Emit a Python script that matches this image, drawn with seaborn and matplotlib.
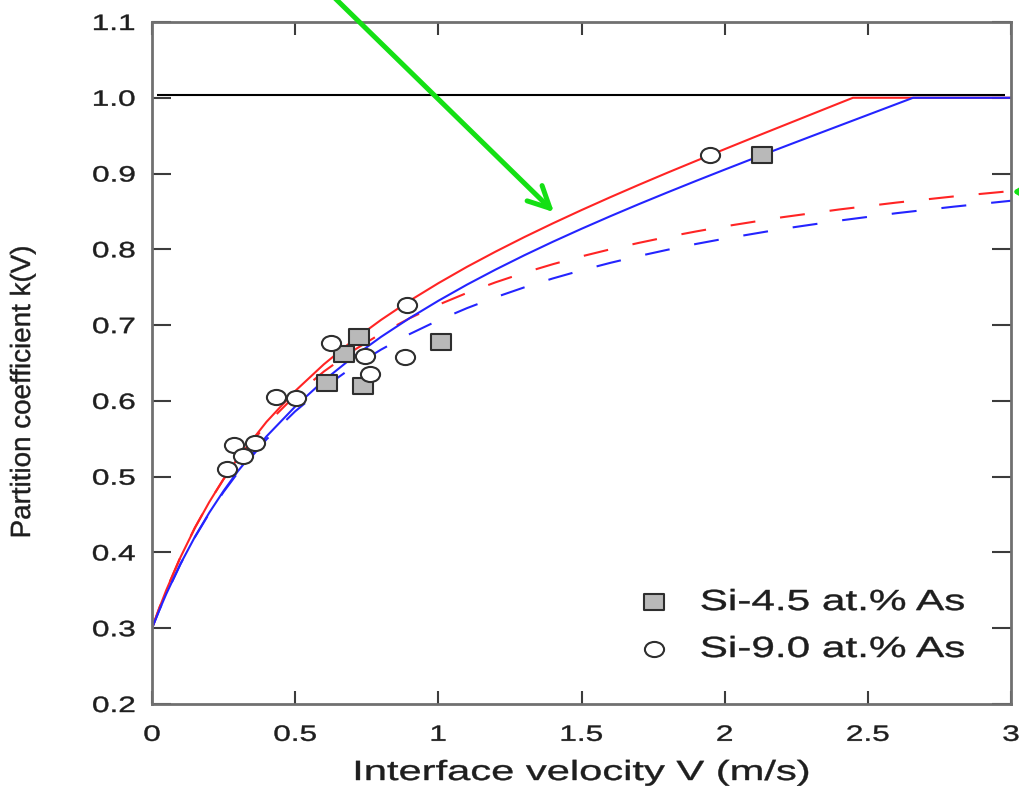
import matplotlib
matplotlib.use("Agg")
import matplotlib.pyplot as plt
import seaborn as sns
import numpy as np
from matplotlib.path import Path
from matplotlib.patheffects import AbstractPathEffect
from matplotlib.transforms import Affine2D

# ---- measured partition coefficients -------------------------------------
si45_v = [0.610, 0.671, 0.724, 0.736, 1.010, 2.131]
si45_k = [0.623, 0.662, 0.684, 0.620, 0.678, 0.924]

si90_v = [0.263, 0.286, 0.319, 0.359, 0.433, 0.503, 0.624, 0.743, 0.761,
          0.885, 0.890, 1.949]
si90_k = [0.510, 0.542, 0.527, 0.544, 0.605, 0.604, 0.676, 0.659, 0.635,
          0.658, 0.726, 0.924]

# ---- model curves k(V) ------------------------------------------------------
# local-nonequilibrium model (solid), reaches k = 1 at V = V_D
red_solid_v = [0, 0.025, 0.05, 0.1, 0.15, 0.2, 0.25, 0.3, 0.4, 0.5, 0.6, 0.7,
               0.8, 0.9, 1.0, 1.1, 1.2, 1.3, 1.4, 1.5, 1.6, 1.7, 1.8, 1.9,
               2.0, 2.1, 2.2, 2.3, 2.4, 2.448, 3.0]
red_solid_k = [0.3, 0.3261, 0.3504, 0.3941, 0.4325, 0.4665, 0.4970, 0.5245,
               0.5724, 0.6130, 0.6482, 0.6792, 0.7069, 0.7322, 0.7553, 0.7769,
               0.7970, 0.8161, 0.8343, 0.8518, 0.8687, 0.8851, 0.9011, 0.9167,
               0.9322, 0.9475, 0.9626, 0.9777, 0.9928, 1.0, 1.0]

blue_solid_v = [0, 0.025, 0.05, 0.1, 0.15, 0.2, 0.25, 0.3, 0.4, 0.5, 0.6, 0.7,
                0.8, 0.9, 1.0, 1.1, 1.2, 1.3, 1.4, 1.5, 1.6, 1.7, 1.8, 1.9,
                2.0, 2.1, 2.2, 2.3, 2.4, 2.5, 2.6, 2.658, 3.0]
blue_solid_k = [0.3, 0.3234, 0.3454, 0.3853, 0.4207, 0.4525, 0.4812, 0.5073,
                0.5532, 0.5925, 0.6268, 0.6572, 0.6845, 0.7093, 0.7321, 0.7534,
                0.7733, 0.7921, 0.8100, 0.8271, 0.8436, 0.8596, 0.8751, 0.8903,
                0.9052, 0.9199, 0.9344, 0.9488, 0.9631, 0.9774, 0.9917, 1.0,
                1.0]

# continuous growth model (dashed)
dashed_v = [0, 0.025, 0.05, 0.1, 0.15, 0.2, 0.25, 0.3, 0.4, 0.5, 0.6, 0.7,
            0.8, 0.9, 1.0, 1.1, 1.2, 1.3, 1.4, 1.5, 1.6, 1.7, 1.8, 1.9, 2.0,
            2.2, 2.4, 2.6, 2.8, 3.0]
red_dashed_k = [0.3, 0.3263, 0.3507, 0.3946, 0.4329, 0.4667, 0.4966, 0.5234,
                0.5692, 0.6070, 0.6387, 0.6657, 0.6889, 0.7091, 0.7268, 0.7425,
                0.7565, 0.7691, 0.7804, 0.7907, 0.8000, 0.8085, 0.8164, 0.8236,
                0.8303, 0.8423, 0.8526, 0.8617, 0.8698, 0.8769]
blue_dashed_k = [0.3, 0.3234, 0.3453, 0.3850, 0.4203, 0.4517, 0.4799, 0.5053,
                 0.5493, 0.5862, 0.6175, 0.6443, 0.6677, 0.6882, 0.7063,
                 0.7224, 0.7368, 0.7498, 0.7616, 0.7723, 0.7821, 0.7911,
                 0.7994, 0.8071, 0.8141, 0.8269, 0.8379, 0.8477, 0.8563,
                 0.8641]

# equilibrium reference k = 1
ref_k = 1.004
ref_v_start, ref_v_end = 0.018, 2.979

x_ticks = [0, 0.5, 1, 1.5, 2, 2.5, 3]
x_tick_labels = ["0", "0.5", "1", "1.5", "2", "2.5", "3"]
y_ticks = [0.2, 0.3, 0.4, 0.5, 0.6, 0.7, 0.8, 0.9, 1.0, 1.1]
y_tick_labels = ["0.2", "0.3", "0.4", "0.5", "0.6", "0.7", "0.8", "0.9",
                 "1.0", "1.1"]

labels = ["Si-4.5 at.% As", "Si-9.0 at.% As"]

# annotation arrows (data coordinates)
arrow1_tip, arrow1_tail = (1.404, 0.849), (0.513, 1.178)
arrow2_tip, arrow2_tail = (3.004, 0.876), (3.35, 0.876)


class Stretch(AbstractPathEffect):
    """Draw glyph outlines widened along one direction about a pivot,
    with a thin outline stroke for a heavier look."""

    def __init__(self, sx=1.0, sy=1.0, pivot="center", stroke=0.3):
        super().__init__()
        self._sx, self._sy, self._pivot = sx, sy, pivot
        self._stroke = stroke

    def draw_path(self, renderer, gc, tpath, affine, rgbFace=None):
        ext = tpath.get_extents()
        if self._pivot == "left":
            px = ext.x0
        elif self._pivot == "right":
            px = ext.x1
        else:
            px = 0.5 * (ext.x0 + ext.x1)
        py = 0.5 * (ext.y0 + ext.y1)
        pre = (Affine2D().translate(-px, -py)
               .scale(self._sx, self._sy).translate(px, py))
        gc0 = renderer.new_gc()
        gc0.copy_properties(gc)
        gc0.set_linewidth(self._stroke)
        gc0.set_joinstyle("round")
        renderer.draw_path(gc0, tpath, pre + affine, rgbFace)
        gc0.restore()


sns.set_theme(style="ticks")
plt.rcParams["font.family"] = ["Liberation Sans", "DejaVu Sans"]

TEXT = "#1e1e1e"
SPINE = "#707070"
TICK = "#3c3c3c"
RED = "#ff2424"
BLUE = "#2424ff"
GREEN = "#14e014"

# slightly wide marker shapes
circ = Path.unit_circle()
ellipse_marker = Path(circ.vertices * np.array([1.0, 0.79]), circ.codes)
rect_marker = Path([(-1, -0.84), (1, -0.84), (1, 0.84), (-1, 0.84), (-1, -0.84)],
                   [Path.MOVETO, Path.LINETO, Path.LINETO, Path.LINETO,
                    Path.CLOSEPOLY])

fig = plt.figure(figsize=(10.19, 7.94), dpi=100)
ax = fig.add_axes([152 / 1019, 90 / 794, 859 / 1019, 682 / 794])

dash = (0, (12, 12))
sns.lineplot(x=dashed_v, y=red_dashed_k, ax=ax, color=RED, lw=1.5,
             linestyle=dash, sort=False)
sns.lineplot(x=dashed_v, y=blue_dashed_k, ax=ax, color=BLUE, lw=1.5,
             linestyle=dash, sort=False)
sns.lineplot(x=red_solid_v, y=red_solid_k, ax=ax, color=RED, lw=1.5,
             sort=False)
sns.lineplot(x=blue_solid_v, y=blue_solid_k, ax=ax, color=BLUE, lw=1.5,
             sort=False)
ax.hlines(ref_k, ref_v_start, ref_v_end, color="black", lw=1.5, zorder=2)

sns.scatterplot(x=si45_v, y=si45_k, ax=ax, marker=rect_marker, s=190,
                color="#b9b9b9", edgecolor="#2e2e2e", linewidth=1.5,
                label=labels[0], zorder=3)
sns.scatterplot(x=si90_v, y=si90_k, ax=ax, marker=ellipse_marker, s=190,
                color="white", edgecolor="#2e2e2e", linewidth=1.5,
                label=labels[1], zorder=3)

ax.set_xlim(0, 3)
ax.set_ylim(0.2, 1.1)
ax.set_xticks(x_ticks)
ax.set_xticklabels(x_tick_labels)
ax.set_yticks(y_ticks)
ax.set_yticklabels(y_tick_labels)
ax.tick_params(axis="x", direction="in", length=9.4, width=1.5, color=TICK,
               top=True, bottom=True, pad=15, labelsize=16, labelcolor=TEXT)
ax.tick_params(axis="y", direction="in", length=13.7, width=1.5, color=TICK,
               left=True, right=True, pad=12, labelsize=16, labelcolor=TEXT)
for side in ["left", "right", "top", "bottom"]:
    ax.spines[side].set_visible(True)
    ax.spines[side].set_color(SPINE)
    ax.spines[side].set_linewidth(2.0)

ax.set_xlabel("Interface velocity V (m/s)", fontsize=20, color=TEXT)
ax.xaxis.set_label_coords(0.5, -(760 - 704) / 682)
ax.set_ylabel("Partition coefficient k(V)", fontsize=20, color=TEXT)
ax.yaxis.set_label_coords((36 - 152) / 859, (704 - 392) / 682)

leg = ax.legend(loc="upper left", bbox_to_anchor=(0.567, 0.170),
                frameon=False, fontsize=21, handlelength=1.0,
                handletextpad=1.1, labelspacing=0.65, borderpad=0,
                borderaxespad=0)
for t in leg.get_texts():
    t.set_color(TEXT)
    t.set_path_effects([Stretch(sx=1.45, pivot="left")])

for t in ax.get_xticklabels():
    t.set_path_effects([Stretch(sx=1.42)])
for t in ax.get_yticklabels():
    t.set_path_effects([Stretch(sx=1.42, pivot="right")])
ax.xaxis.label.set_path_effects([Stretch(sx=1.5)])
ax.yaxis.label.set_path_effects([Stretch()])

arrow_kw = dict(arrowstyle="->,head_length=1.55,head_width=0.77",
                mutation_scale=10, color=GREEN, lw=3.6,
                shrinkA=0, shrinkB=0)
ax.annotate("", xy=arrow1_tip, xytext=arrow1_tail, xycoords="data",
            arrowprops=arrow_kw, annotation_clip=False)
arrow2_kw = dict(arrow_kw, arrowstyle="-|>,head_length=0.9,head_width=0.55")
ax.annotate("", xy=arrow2_tip, xytext=arrow2_tail, xycoords="data",
            arrowprops=arrow2_kw, annotation_clip=False)

fig.savefig("out.png", dpi=100)
